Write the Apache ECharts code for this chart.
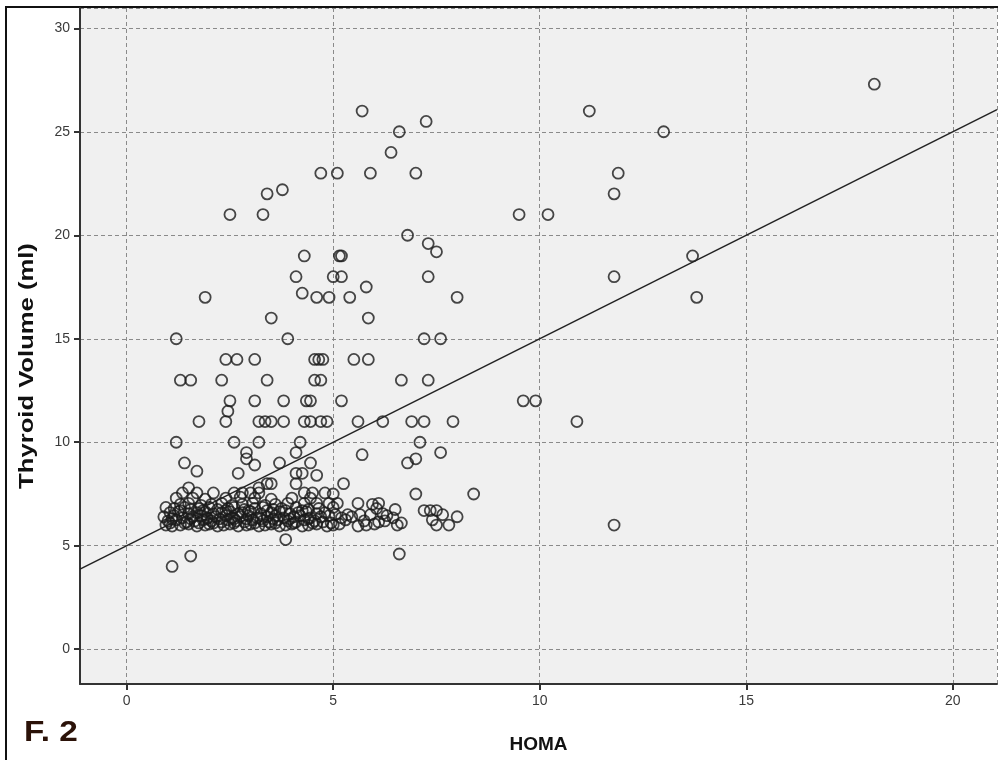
<!DOCTYPE html>
<html>
<head>
<meta charset="utf-8">
<script src="https://cdn.jsdelivr.net/npm/echarts@6/dist/echarts.min.js"></script>
<style>
  html, body { margin: 0; padding: 0; background: #fff; }
  #main { width: 998px; height: 760px; }
</style>
</head>
<body>
<div id="main"></div>
<script>
// HOMA vs thyroid volume
var upperPoints = [
  [18.1, 27.3], [11.2, 26.0], [5.7, 26.0], [7.25, 25.5], [6.6, 25.0], [13.0, 25.0],
  [6.4, 24.0], [4.7, 23.0], [5.1, 23.0], [5.9, 23.0], [7.0, 23.0], [11.9, 23.0],
  [11.8, 22.0], [3.4, 22.0], [3.77, 22.2], [2.5, 21.0], [3.3, 21.0], [9.5, 21.0],
  [10.2, 21.0], [6.8, 20.0], [7.3, 19.6], [7.5, 19.2], [13.7, 19.0], [4.3, 19.0],
  [5.15, 19.0], [5.2, 19.0], [4.1, 18.0], [5.0, 18.0], [5.2, 18.0], [7.3, 18.0],
  [11.8, 18.0], [4.25, 17.2], [1.9, 17.0], [4.6, 17.0], [4.9, 17.0], [5.4, 17.0],
  [5.8, 17.5], [8.0, 17.0], [13.8, 17.0], [5.85, 16.0], [3.5, 16.0], [1.2, 15.0],
  [3.9, 15.0], [7.2, 15.0], [7.6, 15.0]
];

var middlePoints = [
  [2.4, 14], [2.67, 14], [3.1, 14], [4.55, 14], [4.65, 14], [4.75, 14], [5.5, 14], [5.85, 14],
  [1.3, 13], [1.55, 13], [2.3, 13], [3.4, 13], [4.55, 13], [4.7, 13], [6.65, 13], [7.3, 13],
  [2.5, 12], [3.1, 12], [3.8, 12], [4.35, 12], [4.45, 12], [5.2, 12], [9.6, 12], [9.9, 12],
  [2.45, 11.5],
  [1.75, 11], [2.4, 11], [3.2, 11], [3.35, 11], [3.5, 11], [3.8, 11], [4.3, 11], [4.45, 11],
  [4.7, 11], [4.85, 11], [5.6, 11], [6.2, 11], [6.9, 11], [7.2, 11], [7.9, 11], [10.9, 11],
  [1.2, 10], [2.6, 10], [3.2, 10], [4.2, 10], [7.1, 10],
  [2.9, 9.5], [4.1, 9.5], [5.7, 9.4], [7.6, 9.5], [7.0, 9.2], [6.8, 9.0], [1.4, 9.0],
  [2.9, 9.2], [3.1, 8.9], [3.7, 9.0], [4.45, 9.0],
  [1.7, 8.6], [2.7, 8.5], [4.1, 8.5], [4.25, 8.5], [4.6, 8.4],
  [3.5, 8.0], [4.1, 8.0], [5.25, 8.0], [3.4, 8.0],
  [7.0, 7.5], [8.4, 7.5],
  [1.55, 4.5], [1.1, 4.0], [3.85, 5.3], [6.6, 4.6], [11.8, 6.0]
];

var clusterPoints = [
  // ~6.0
  [0.95, 6.0], [1.1, 5.95], [1.3, 6.0], [1.5, 6.05], [1.7, 5.95], [1.9, 6.0], [2.0, 6.05],
  [2.2, 5.95], [2.35, 6.0], [2.5, 6.05], [2.7, 5.95], [2.9, 6.0], [3.0, 6.05], [3.2, 5.95],
  [3.35, 6.0], [3.5, 6.05], [3.7, 5.95], [3.85, 6.0], [4.0, 6.05], [4.25, 5.95], [4.4, 6.0],
  [4.6, 6.05], [4.85, 5.95], [5.0, 6.0], [5.15, 6.05], [5.6, 5.95], [5.8, 6.0], [6.0, 6.05],
  [6.55, 6.0], [6.65, 6.1], [7.5, 6.0], [7.8, 6.0],
  // ~6.1
  [1.05, 6.1], [1.4, 6.1], [1.75, 6.1], [2.1, 6.1], [2.6, 6.1], [3.1, 6.1], [3.6, 6.1],
  [4.05, 6.1], [4.5, 6.1], [4.95, 6.1],
  // ~6.2
  [1.0, 6.2], [1.2, 6.25], [1.45, 6.15], [1.65, 6.2], [1.85, 6.25], [2.05, 6.2], [2.3, 6.15],
  [2.45, 6.25], [2.65, 6.2], [2.85, 6.15], [3.05, 6.25], [3.3, 6.2], [3.45, 6.15], [3.65, 6.25],
  [3.9, 6.2], [4.1, 6.15], [4.3, 6.25], [4.55, 6.2], [4.75, 6.15], [5.3, 6.25], [5.75, 6.2],
  [6.1, 6.15], [6.25, 6.2], [7.4, 6.25],
  // ~6.3
  [1.1, 6.3], [1.55, 6.3], [1.95, 6.3], [2.25, 6.3], [2.6, 6.3], [2.9, 6.3], [3.25, 6.3],
  [3.55, 6.3], [3.95, 6.3], [4.4, 6.3],
  // ~6.4
  [0.9, 6.4], [1.15, 6.45], [1.35, 6.35], [1.6, 6.4], [1.8, 6.45], [1.95, 6.35], [2.15, 6.4],
  [2.4, 6.45], [2.55, 6.35], [2.75, 6.4], [2.95, 6.45], [3.15, 6.35], [3.4, 6.4], [3.6, 6.45],
  [3.8, 6.35], [4.05, 6.4], [4.2, 6.45], [4.45, 6.35], [4.7, 6.4], [4.9, 6.45], [5.2, 6.35],
  [5.45, 6.4], [6.3, 6.45], [6.45, 6.35], [8.0, 6.4],
  // ~6.6
  [1.05, 6.6], [1.25, 6.65], [1.5, 6.55], [1.7, 6.6], [1.9, 6.65], [2.1, 6.55], [2.3, 6.6],
  [2.5, 6.65], [2.7, 6.55], [2.8, 6.6], [3.0, 6.65], [3.25, 6.55], [3.5, 6.6], [3.7, 6.65],
  [3.95, 6.55], [4.15, 6.6], [4.35, 6.65], [4.6, 6.55], [4.8, 6.6], [5.05, 6.5], [5.35, 6.5],
  [5.65, 6.5], [5.9, 6.5], [6.2, 6.55], [7.65, 6.5],
  // ~6.7
  [1.3, 6.7], [1.85, 6.7], [2.4, 6.7], [2.95, 6.7], [3.4, 6.7], [3.85, 6.7], [4.25, 6.7],
  // ~6.8
  [0.95, 6.85], [1.15, 6.8], [1.4, 6.85], [1.55, 6.75], [1.75, 6.8], [2.0, 6.85], [2.2, 6.75],
  [2.45, 6.8], [2.6, 6.85], [2.85, 6.75], [3.1, 6.8], [3.3, 6.85], [3.55, 6.75], [3.75, 6.8],
  [4.1, 6.85], [4.4, 6.75], [4.65, 6.8], [5.0, 6.85], [6.05, 6.8], [6.5, 6.75], [7.2, 6.7],
  [7.35, 6.7], [7.5, 6.7],
  // ~7.0
  [1.3, 7.0], [1.5, 7.05], [1.8, 6.95], [2.05, 7.0], [2.3, 7.05], [2.55, 6.95], [2.8, 7.0],
  [3.05, 7.05], [3.35, 6.95], [3.6, 7.0], [3.9, 7.05], [4.3, 7.05], [4.6, 7.05], [4.9, 7.05],
  [5.1, 7.05], [5.6, 7.05], [5.95, 7.0], [6.1, 7.05],
  // ~7.3 - 7.8
  [1.2, 7.3], [1.6, 7.3], [1.9, 7.25], [2.4, 7.3], [2.75, 7.35], [3.1, 7.3], [3.5, 7.25],
  [4.0, 7.3], [4.45, 7.3],
  [1.35, 7.55], [1.7, 7.55], [2.1, 7.55], [2.6, 7.55], [2.8, 7.55], [3.0, 7.55], [3.2, 7.55],
  [4.3, 7.55], [4.5, 7.55], [4.8, 7.55], [5.0, 7.5],
  [1.5, 7.8], [3.2, 7.8]
];

// fitted line: volume = intercept + slope * HOMA
var fitIntercept = 5.0;
var fitSlope = 1.0;

var xRange = [-1.13, 21.07];
var yRange = [-1.68, 30.98];

var myChart = echarts.init(document.getElementById('main'));

var allPoints = upperPoints.concat(middlePoints, clusterPoints);
var fitData = xRange.map(function (x) { return [x, fitIntercept + fitSlope * x]; });

var gridLine = {
  show: true,
  lineStyle: { color: '#8a8a8a', type: [4, 3], width: 1 }
};

var tickLabel = {
  showMinLabel: false, showMaxLabel: false,
  fontFamily: 'Liberation Sans', fontSize: 14, color: '#3a3a3a', margin: 10
};

option = {
  animation: false,
  backgroundColor: '#fff',
  grid: {
    left: 80, right: 1, top: 8, bottom: 76,
    show: true, backgroundColor: '#f0f0f0', borderWidth: 0
  },
  xAxis: {
    type: 'value',
    min: xRange[0], max: xRange[1],
    splitNumber: 5,
    name: 'HOMA',
    nameLocation: 'middle',
    nameGap: 51,
    nameTextStyle: { fontFamily: 'Liberation Sans', fontWeight: 'bold', fontSize: 19, color: '#111' },
    axisLine: { show: true, onZero: false, lineStyle: { color: '#333', width: 2 } },
    axisTick: { show: true, length: 6, lineStyle: { color: '#333', width: 2 } },
    axisLabel: tickLabel,
    splitLine: gridLine
  },
  yAxis: {
    type: 'value',
    min: yRange[0], max: yRange[1],
    splitNumber: 6,
    axisLine: { show: true, onZero: false, lineStyle: { color: '#333', width: 2 } },
    axisTick: { show: true, length: 6, lineStyle: { color: '#333', width: 2 } },
    axisLabel: tickLabel,
    splitLine: gridLine
  },
  graphic: [
    {
      type: 'polyline',
      shape: { points: [[6, 760], [6, 7], [998, 7]] },
      style: { stroke: '#111', lineWidth: 2, fill: null }
    },
    {
      type: 'text',
      x: 27, y: 366,
      rotation: Math.PI / 2,
      scaleX: 1.22,
      style: {
        text: 'Thyroid Volume (ml)',
        font: 'bold 21px "Liberation Sans"',
        fill: '#111',
        align: 'center',
        verticalAlign: 'middle'
      }
    },
    {
      type: 'text',
      x: 24, y: 718,
      scaleX: 1.15,
      style: {
        text: 'F. 2',
        font: 'bold 29px "Liberation Sans"',
        fill: '#2b1208'
      }
    }
  ],
  series: [
    {
      type: 'scatter',
      data: allPoints,
      symbol: 'circle',
      symbolSize: 11,
      itemStyle: { color: 'rgba(0,0,0,0)', borderColor: '#1a1a1a', borderWidth: 1.8 },
      silent: true
    },
    {
      type: 'line',
      data: fitData,
      symbol: 'none',
      lineStyle: { color: '#222', width: 1.5 },
      silent: true,
      z: 3
    }
  ]
};
myChart.setOption(option);
</script>
</body>
</html>
